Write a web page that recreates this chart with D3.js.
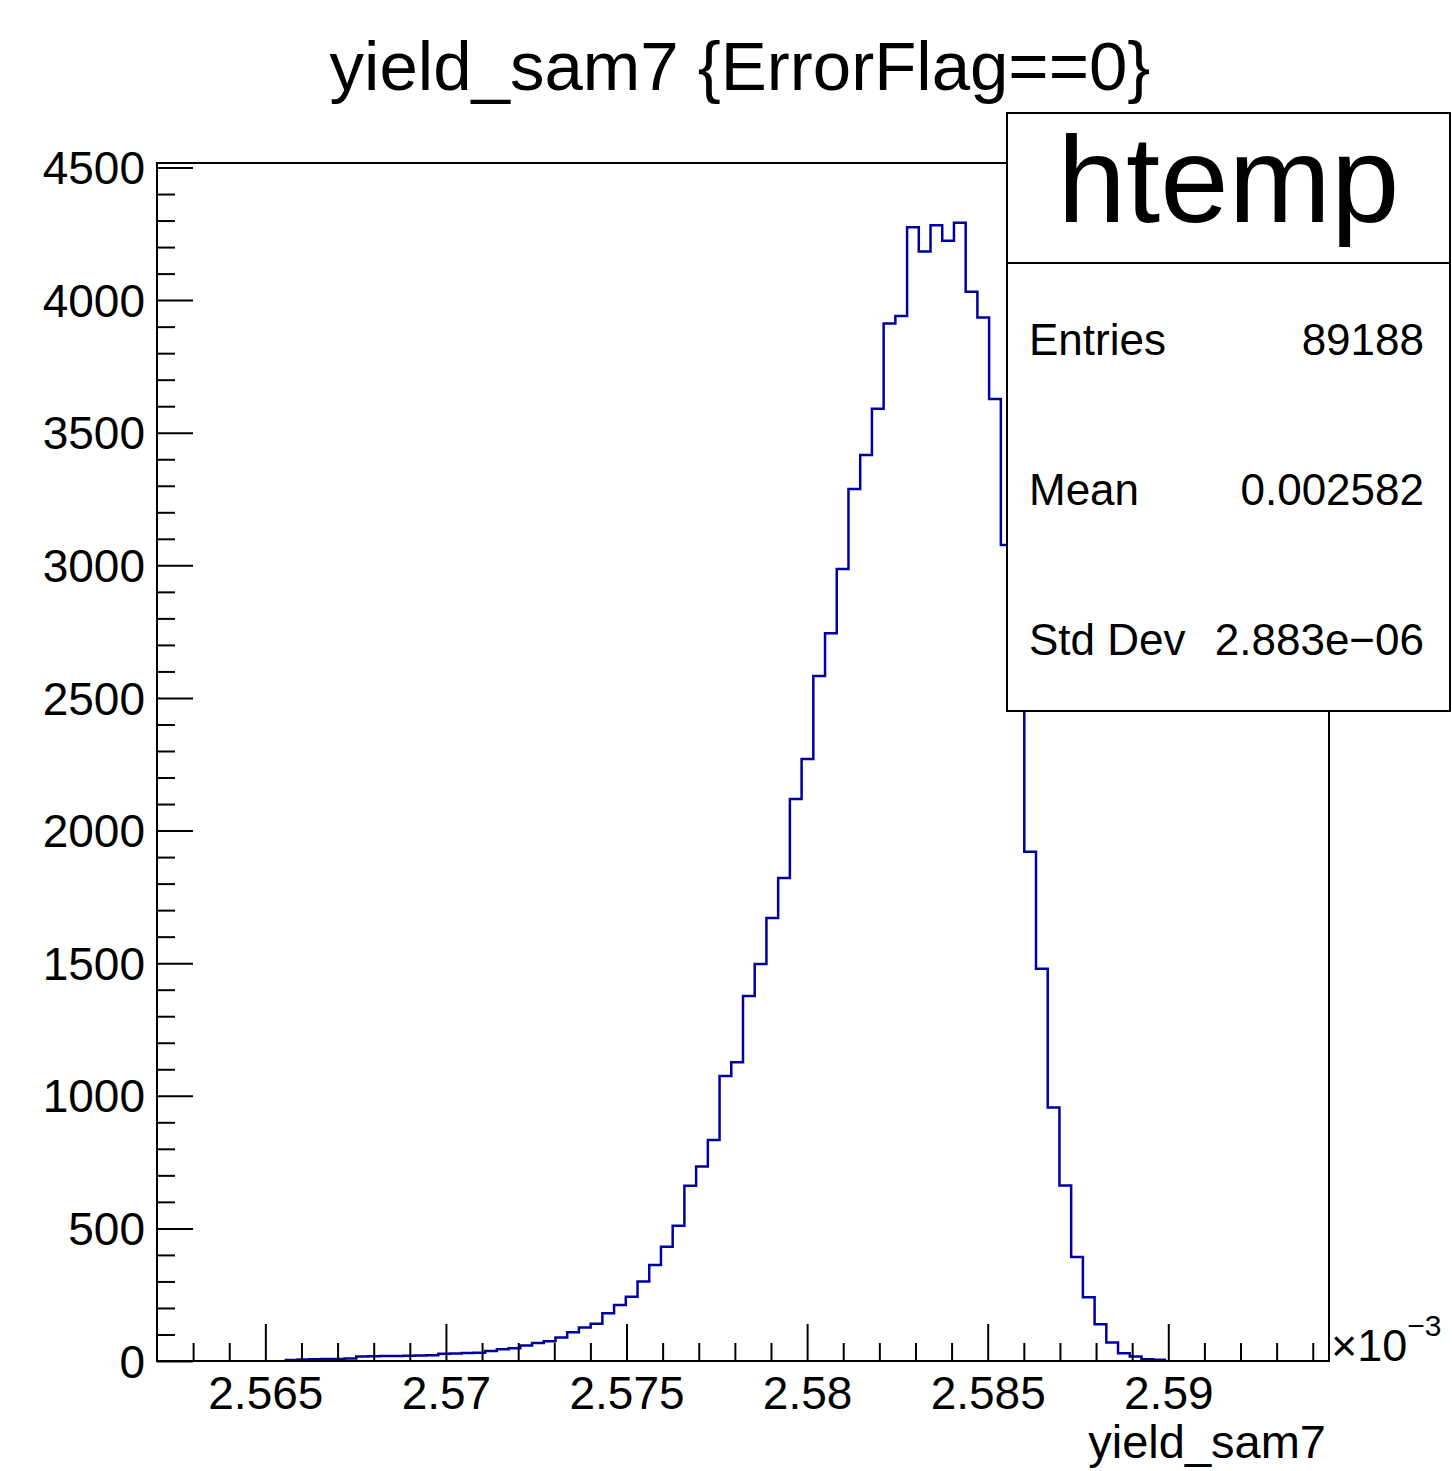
<!DOCTYPE html>
<html>
<head>
<meta charset="utf-8">
<script src="https://cdn.jsdelivr.net/npm/d3@7"></script>
<style>
  body { margin: 0; background: #fff; }
  svg text { font-family: "Liberation Sans", Arial, Helvetica, sans-serif; fill: #000; }
</style>
</head>
<body>
<svg id="hist"></svg>
<script>
// histogram range (units of 10^-3) and bin contents, 100 bins
var xMin = 2.56200;
var xMax = 2.59445;
var yMax = 4517;
var binCounts = [
  0, 0, 0, 0, 0, 0, 0, 0, 0, 0,
  0, 4, 6, 7, 8, 8, 9, 17, 18, 19,
  19, 20, 21, 22, 27, 28, 30, 31, 38, 44,
  48, 58, 68, 74, 89, 108, 126, 140, 180, 211,
  242, 300, 362, 431, 510, 661, 733, 833, 1075, 1126,
  1376, 1497, 1670, 1821, 2119, 2270, 2583, 2744, 2986, 3288,
  3416, 3590, 3912, 3940, 4275, 4183, 4282, 4224, 4292, 4032,
  3934, 3627, 3077, 2600, 1920, 1479, 956, 662, 392, 240,
  139, 70, 29, 17, 7, 5, 0, 0, 0, 0,
  0, 0, 0, 0, 0, 0, 0, 0, 0, 0
];

// axis ticks
var xMajorTicks = [2.565, 2.57, 2.575, 2.58, 2.585, 2.59];
var xTickLabels = ["2.565", "2.57", "2.575", "2.58", "2.585", "2.59"];
var xMinorTicks = [2.563, 2.564, 2.566, 2.567, 2.568, 2.569, 2.571, 2.572, 2.573, 2.574,
  2.576, 2.577, 2.578, 2.579, 2.581, 2.582, 2.583, 2.584, 2.586, 2.587, 2.588, 2.589,
  2.591, 2.592, 2.593, 2.594];
var yMajorTicks = [0, 500, 1000, 1500, 2000, 2500, 3000, 3500, 4000, 4500];
var yMinorTicks = d3.range(100, 4501, 100).filter(function (v) { return v % 500 != 0; });

// stats box text
var statNames = ["Entries", "Mean", "Std Dev"];
var statValues = ["89188", "0.002582", "2.883e\u221206"];

var screen = { width: 1452, height: 1471 };
var frame = { left: 157, right: 1329, top: 163, bottom: 1361 };

var svg = d3.select("#hist").attr("width", screen.width).attr("height", screen.height);

var xScale = d3.scaleLinear().domain([xMin, xMax]).range([frame.left, frame.right]);
var yScale = d3.scaleLinear().domain([0, yMax]).range([frame.bottom, frame.top]);

//histogram outline//
var binWidth = (xMax - xMin) / binCounts.length;
var pts = binCounts.map(function (c, i) { return [xMin + i * binWidth, c]; });
pts.push([xMax, binCounts[binCounts.length - 1]]);

var line = d3.line()
  .x(function (d) { return xScale(d[0]); })
  .y(function (d) { return yScale(d[1]); })
  .curve(d3.curveStepAfter);

// only draw from the first filled bin to the last one
var first = binCounts.findIndex(function (c) { return c > 0; });
var last = binCounts.length - 1 - binCounts.slice().reverse().findIndex(function (c) { return c > 0; });
var drawPts = [[xMin + first * binWidth, 0]].concat(pts.slice(first, last + 1));
drawPts.push([xMin + (last + 1) * binWidth, binCounts[last]]);
drawPts.push([xMin + (last + 1) * binWidth, 0]);

svg.append("path")
  .attr("d", line(drawPts))
  .attr("fill", "none")
  .attr("stroke", "#0000a0")
  .attr("stroke-width", 2.5);

//axes//
var xAxisMajor = d3.axisBottom(xScale)
  .tickValues(xMajorTicks)
  .tickFormat(function (d, i) { return xTickLabels[i]; })
  .tickSizeInner(-37).tickSizeOuter(0).tickPadding(15);
var xAxisMinor = d3.axisBottom(xScale)
  .tickValues(xMinorTicks).tickFormat("")
  .tickSizeInner(-18).tickSizeOuter(0);

var gx = svg.append("g").attr("transform", "translate(0," + frame.bottom + ")");
gx.append("g").call(xAxisMajor);
gx.append("g").call(xAxisMinor);

var yAxisMajor = d3.axisLeft(yScale)
  .tickValues(yMajorTicks)
  .tickFormat(d3.format("d"))
  .tickSizeInner(-36).tickSizeOuter(0).tickPadding(12);
var yAxisMinor = d3.axisLeft(yScale)
  .tickValues(yMinorTicks).tickFormat("")
  .tickSizeInner(-18).tickSizeOuter(0);

var gy = svg.append("g").attr("transform", "translate(" + frame.left + ",0)");
gy.append("g").call(yAxisMajor);
gy.append("g").call(yAxisMinor);

svg.selectAll(".domain").remove();
svg.selectAll(".tick line").attr("stroke", "#000").attr("stroke-width", 2);
svg.selectAll(".tick text").attr("font-size", 46).attr("font-family", null);
gy.selectAll(".tick text").attr("dy", "0.35em");

//frame//
svg.append("rect")
  .attr("x", frame.left).attr("y", frame.top)
  .attr("width", frame.right - frame.left)
  .attr("height", frame.bottom - frame.top)
  .attr("fill", "none").attr("stroke", "#000").attr("stroke-width", 2);

//labels//
svg.append("text")
  .text("yield_sam7 {ErrorFlag==0}")
  .attr("text-anchor", "middle")
  .attr("x", 740).attr("y", 90)
  .attr("font-size", 69);

svg.append("text")
  .text("yield_sam7")
  .attr("text-anchor", "end")
  .attr("x", 1326).attr("y", 1458)
  .attr("font-size", 47);

var expo = svg.append("text").attr("x", 1331).attr("y", 1361).attr("font-size", 45);
expo.append("tspan").text("\u00d710");
expo.append("tspan").text("\u22123").attr("font-size", 30).attr("dy", -25);

//stats box//
var box = { x: 1007, y: 113, w: 443, h: 598, head: 150 };
var stats = svg.append("g");
stats.append("rect")
  .attr("x", box.x).attr("y", box.y).attr("width", box.w).attr("height", box.h)
  .attr("fill", "#fff").attr("stroke", "#000").attr("stroke-width", 2);
stats.append("line")
  .attr("x1", box.x).attr("x2", box.x + box.w)
  .attr("y1", box.y + box.head).attr("y2", box.y + box.head)
  .attr("stroke", "#000").attr("stroke-width", 2);
stats.append("text")
  .text("htemp")
  .attr("text-anchor", "middle")
  .attr("x", box.x + box.w / 2).attr("y", 222)
  .attr("font-size", 123);

statNames.forEach(function (name, i) {
  var yy = 355 + i * 150;
  stats.append("text").text(name)
    .attr("x", 1029).attr("y", yy).attr("font-size", 44);
  stats.append("text").text(statValues[i])
    .attr("text-anchor", "end")
    .attr("x", 1424).attr("y", yy).attr("font-size", 44);
});
</script>
</body>
</html>
